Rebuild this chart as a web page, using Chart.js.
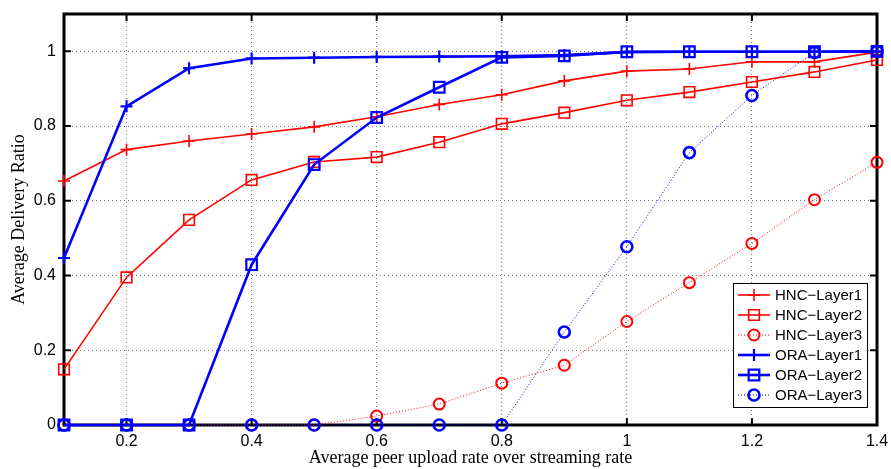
<!DOCTYPE html>
<html>
<head>
  <title>Average Delivery Ratio</title>
  <script src="https://cdn.jsdelivr.net/npm/chart.js@4.4.0/dist/chart.umd.min.js"></script>
  <style>
    html, body { margin: 0; padding: 0; background: #fff; }
    #wrap { width: 891px; height: 469px; }
  </style>
</head>
<body>
  <div id="wrap"><canvas id="myChart"></canvas></div>
  <script>
    // x: peer upload rate / streaming rate
    var rates = [0.1, 0.2, 0.3, 0.4, 0.5, 0.6, 0.7, 0.8, 0.9, 1.0, 1.1, 1.2, 1.3, 1.4];
    var xTicks = [0.2, 0.4, 0.6, 0.8, 1.0, 1.2, 1.4];
    var yTicks = [0, 0.2, 0.4, 0.6, 0.8, 1.0];

    var hncLayer1 = [0.653, 0.737, 0.76, 0.779, 0.798, 0.825, 0.858, 0.884, 0.921, 0.947, 0.953, 0.972, 0.972, 0.998];
    var hncLayer2 = [0.149, 0.395, 0.549, 0.656, 0.704, 0.717, 0.757, 0.806, 0.836, 0.869, 0.891, 0.918, 0.945, 0.977];
    var hncLayer3 = [0, 0, 0, 0, 0, 0.024, 0.056, 0.112, 0.16, 0.277, 0.381, 0.486, 0.603, 0.703];
    var oraLayer1 = [0.447, 0.853, 0.955, 0.981, 0.983, 0.985, 0.986, 0.987, 0.99, 0.998, 0.999, 0.999, 0.999, 1.0];
    var oraLayer2 = [0, 0, 0, 0.429, 0.697, 0.823, 0.904, 0.984, 0.988, 0.999, 0.999, 0.999, 0.999, 1.0];
    var oraLayer3 = [0, 0, 0, 0, 0, 0, 0, 0, 0.249, 0.477, 0.729, 0.882, 0.997, 1.0];

    function pts(arr) {
      return arr.map(function(v, i) { return { x: rates[i], y: v }; });
    }

    var RED = '#ff0000';
    var BLUE = '#0000ff';
    var NONE = 'rgba(0,0,0,0)';

    function series(label, values, color, style, lw, pr, pw, dashed) {
      return {
        label: label,
        data: pts(values),
        borderColor: color,
        backgroundColor: NONE,
        borderWidth: lw,
        borderDash: dashed ? [1, 2] : [],
        pointStyle: style,
        pointRadius: pr,
        pointBorderWidth: pw,
        pointBorderColor: color,
        pointBackgroundColor: NONE,
        pointHoverRadius: pr,
        tension: 0,
        clip: false,
        fill: false
      };
    }

    var datasets = [
      series('HNC\u2212Layer1', hncLayer1, RED, 'cross', 1.6, 6, 1.6, false),
      series('HNC\u2212Layer2', hncLayer2, RED, 'rect', 1.6, 7.5, 1.6, false),
      series('HNC\u2212Layer3', hncLayer3, RED, 'circle', 1, 5.5, 2, true),
      series('ORA\u2212Layer1', oraLayer1, BLUE, 'cross', 2.6, 6, 2.2, false),
      series('ORA\u2212Layer2', oraLayer2, BLUE, 'rect', 2.6, 7.5, 2.2, false),
      series('ORA\u2212Layer3', oraLayer3, BLUE, 'circle', 1, 5.5, 2.6, true)
    ];
    // later series on top
    datasets.forEach(function(d, i) { d.order = datasets.length - i; });

    // axis box with inward ticks on all four sides
    var framePlugin = {
      id: 'frame',
      beforeDatasetsDraw: function(chart) {
        var ctx = chart.ctx, a = chart.chartArea;
        var xs = chart.scales.x, ys = chart.scales.y;
        ctx.save();
        ctx.strokeStyle = '#000';
        ctx.lineWidth = 2;
        var len = 7;
        xTicks.forEach(function(v) {
          var px = xs.getPixelForValue(v);
          ctx.beginPath();
          ctx.moveTo(px, a.bottom); ctx.lineTo(px, a.bottom - len);
          ctx.moveTo(px, a.top); ctx.lineTo(px, a.top + len);
          ctx.stroke();
        });
        yTicks.forEach(function(v) {
          var py = ys.getPixelForValue(v);
          ctx.beginPath();
          ctx.moveTo(a.left, py); ctx.lineTo(a.left + len, py);
          ctx.moveTo(a.right, py); ctx.lineTo(a.right - len, py);
          ctx.stroke();
        });
        ctx.lineWidth = 3;
        ctx.strokeRect(a.left, a.top, a.right - a.left, a.bottom - a.top);
        ctx.restore();
      }
    };

    // boxed legend in the lower right of the plot
    var legendPlugin = {
      id: 'boxLegend',
      afterDraw: function(chart) {
        var ctx = chart.ctx;
        var bx = 733, by = 283, bw = 134, bh = 124;
        ctx.save();
        ctx.fillStyle = '#fff';
        ctx.fillRect(bx, by, bw, bh);
        ctx.strokeStyle = '#000';
        ctx.lineWidth = 1;
        ctx.strokeRect(bx + 0.5, by + 0.5, bw, bh);
        ctx.font = '15px "Liberation Sans", Arial, sans-serif';
        ctx.textBaseline = 'middle';
        chart.data.datasets.forEach(function(d, i) {
          var y = by + 12 + i * 20;
          ctx.strokeStyle = d.borderColor;
          ctx.lineWidth = d.borderWidth;
          ctx.setLineDash(d.borderDash);
          ctx.beginPath();
          ctx.moveTo(bx + 5, y); ctx.lineTo(bx + 37, y);
          ctx.stroke();
          ctx.setLineDash([]);
          ctx.fillStyle = NONE;
          ctx.lineWidth = d.pointBorderWidth;
          Chart.helpers.drawPoint(ctx, {
            pointStyle: d.pointStyle,
            radius: d.pointRadius,
            borderWidth: d.pointBorderWidth
          }, bx + 21, y);
          ctx.fillStyle = '#000';
          ctx.fillText(d.label, bx + 42, y + 1);
        });
        ctx.restore();
      }
    };

    var gridStyle = { color: '#777', lineWidth: 1, drawTicks: false };
    var tickFont = { family: '"Liberation Sans", Arial, sans-serif', size: 16 };
    var titleFont = { family: '"Liberation Serif", "Times New Roman", serif', size: 18 };

    var ctx = document.getElementById('myChart').getContext('2d');
    var myChart = new Chart(ctx, {
      type: 'line',
      data: { datasets: datasets },
      options: {
        responsive: true,
        maintainAspectRatio: false,
        animation: false,
        events: [],
        layout: { padding: { left: 0, right: 14, top: 14, bottom: 0 } },
        plugins: { legend: { display: false }, tooltip: { enabled: false } },
        scales: {
          x: {
            type: 'linear',
            min: 0.1,
            max: 1.4,
            grid: gridStyle,
            border: { display: false, dash: [1, 3] },
            afterBuildTicks: function(scale) {
              scale.ticks = xTicks.map(function(v) { return { value: v }; });
            },
            afterFit: function(scale) {
              scale.height = 44;
              scale.paddingLeft = 0;
              scale.paddingRight = 0;
            },
            ticks: {
              padding: 7,
              color: '#000',
              maxRotation: 0,
              font: tickFont,
              callback: function(v) { return String(+v.toFixed(1)); }
            },
            title: {
              display: true,
              text: 'Average peer upload rate over streaming rate',
              color: '#000',
              padding: { top: 0, bottom: 0 },
              font: titleFont
            }
          },
          y: {
            type: 'linear',
            min: 0,
            max: 1.1,
            grid: gridStyle,
            border: { display: false, dash: [1, 3] },
            afterBuildTicks: function(scale) {
              scale.ticks = yTicks.map(function(v) { return { value: v }; });
            },
            afterFit: function(scale) {
              scale.width = 64;
              scale.paddingTop = 0;
              scale.paddingBottom = 0;
            },
            ticks: {
              padding: 8,
              color: '#000',
              font: tickFont,
              callback: function(v) { return String(+v.toFixed(1)); }
            },
            title: {
              display: true,
              text: 'Average Delivery Ratio',
              color: '#000',
              padding: { top: 8, bottom: 0 },
              font: titleFont
            }
          }
        }
      },
      plugins: [framePlugin, legendPlugin]
    });
  </script>
</body>
</html>
